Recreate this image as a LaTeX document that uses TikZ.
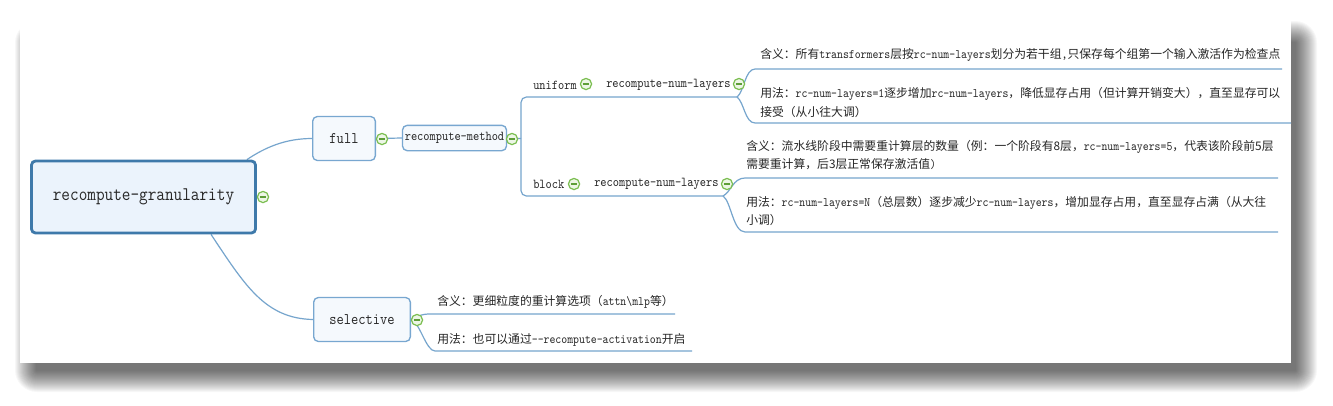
\documentclass[tikz,border=0pt]{standalone}
\usepackage{fontspec}
\setmonofont{Latin Modern Mono}[FakeStretch=0.87]
\newfontfamily\cjk[Scale=0.914]{Noto Sans CJK SC}
\newcommand\zh[1]{{\cjk #1}}
\usetikzlibrary{calc}
\definecolor{linec}{HTML}{76A5CD}
\definecolor{rootb}{HTML}{3E79AA}
\definecolor{rootf}{HTML}{EBF3FC}
\definecolor{boxb}{HTML}{78A7D0}
\definecolor{boxf}{HTML}{F5F9FD}
\definecolor{mg}{HTML}{7BBE50}
\definecolor{mf}{HTML}{EDF6E6}
\definecolor{mbar}{HTML}{5E9E38}
\definecolor{txt}{HTML}{262626}
\pgfdeclarelayer{back}
\pgfdeclarelayer{bg}
\pgfsetlayers{back,bg,main}
\begin{document}
\begin{tikzpicture}[x=0.75pt,y=-0.75pt,
  conn/.style={draw=linec, line width=0.9pt},
  rootbox/.style={draw=rootb, fill=rootf, line width=2.1pt, rounded corners=3pt, inner sep=0pt,
    minimum width=168pt, minimum height=54pt, text=txt, font=\ttfamily\fontsize{14.45pt}{17pt}\selectfont},
  topicbox/.style={draw=boxb, fill=boxf, line width=1pt, rounded corners=3.5pt, inner sep=0pt, text=txt},
  collapse/.style={circle, draw=mg, fill=mf, line width=0.9pt, minimum size=8.4pt, inner sep=0pt,
    path picture={\draw[mbar, line width=1pt] ([xshift=-2.4pt]path picture bounding box.center) -- ([xshift=2.4pt]path picture bounding box.center);}},
  mid/.style={anchor=west, inner sep=0pt, text=txt, font=\ttfamily\fontsize{10.2pt}{12pt}\selectfont},
  leaf/.style={anchor=west, inner sep=0pt, align=left, text=txt, font=\ttfamily\fontsize{9.7pt}{13.5pt}\selectfont}
]
\useasboundingbox (0,0) rectangle (1333,405);
\begin{pgfonlayer}{back}
  \fill[white] (0,0) rectangle (1333,405);
  \foreach \i in {0,...,21} {
    \pgfmathsetmacro\rr{(\i+1)*0.75}
    \fill[black, opacity=0.03, rounded corners=\rr pt] (36-\i,42-\i) rectangle (1296+\i,371+\i);
  }
  \fill[white] (20,20) rectangle (1291,363);
\end{pgfonlayer}

% main topics
\node[rootbox] (root) at (143.5,197) {recompute-granularity};
\node[topicbox, minimum width=47pt, minimum height=33pt, font=\ttfamily\fontsize{12.15pt}{14pt}\selectfont] (full) at (344,138.5) {full};
\node[topicbox, minimum width=78pt, minimum height=19pt, font=\ttfamily\fontsize{10.2pt}{12pt}\selectfont] (method) at (454.5,138) {recompute-method};
\node[topicbox, minimum width=72.5pt, minimum height=33pt, font=\ttfamily\fontsize{12.15pt}{14pt}\selectfont] (selective) at (362,319.5) {selective};

% underlined topics
\node[mid] (uniform) at (533,85) {uniform};
\node[mid] (rnl1) at (606,85) {recompute-num-layers};
\node[mid] (block) at (533,184) {block};
\node[mid] (rnl2) at (594,184) {recompute-num-layers};

% leaves
\node[leaf] (t1) at (760,55) {\zh{含义：所有}transformers\zh{层按}rc-num-layers\zh{划分为若干组},\zh{只保存每个组第一个输入激活作为检查点}};
\node[leaf] (t2) at (760,102.5) {\zh{用法：}rc-num-layers=1\zh{逐步增加}rc-num-layers\zh{，降低显存占用（但计算开销变大），直至显存可以}\\\zh{接受（从小往大调）}};
\node[leaf] (t3) at (746,155) {\zh{含义：流水线阶段中需要重计算层的数量（例：一个阶段有8层，}rc-num-layers=5\zh{，代表该阶段前5层}\\\zh{需要重计算，后3层正常保存激活值})};
\node[leaf] (t4) at (746,211) {\zh{用法：}rc-num-layers=N\zh{（总层数）逐步减少}rc-num-layers\zh{，增加显存占用，直至显存占满（从大往}\\\zh{小调）}};
\node[leaf] (t5) at (437,302) {\zh{含义：更细粒度的重计算选项（}attn\textbackslash mlp\zh{等）}};
\node[leaf] (t6) at (437,340) {\zh{用法：也可以通过}-{}-recompute-activation\zh{开启}};

% collapse icons
\node[collapse] (m0) at (263,197) {};
\node[collapse] (m1) at (382,139) {};
\node[collapse] (m2) at (512,139) {};
\node[collapse] (mu) at (586,84) {};
\node[collapse] (mur) at (739,84) {};
\node[collapse] (mb) at (574,184) {};
\node[collapse] (mbr) at (727,184) {};
\node[collapse] (ms) at (417,320) {};

% connector points
\coordinate (bx) at (521,138.5);
\coordinate (ut) at (521,97);
\coordinate (bt) at (521,196);
\coordinate (ue) at (737,97);
\coordinate (be) at (723,196);
\coordinate (l1s) at (755,69);  \coordinate (l1e) at (1282,69);
\coordinate (l2s) at (755,123); \coordinate (l2e) at (1291,123);
\coordinate (l3s) at (745,178); \coordinate (l3e) at (1278,178);
\coordinate (l4s) at (745,232); \coordinate (l4e) at (1278,232);
\coordinate (l5s) at (430,314); \coordinate (l5e) at (675,314);
\coordinate (l6s) at (435,351); \coordinate (l6e) at (692,351);

\begin{pgfonlayer}{bg}
  \draw[conn] ($(root.north east)+(-10,0)$) .. controls +(18,-12) and +(-27,0) .. (full.west);
  \draw[conn] ($(root.south)+(67.5,0)$) .. controls +(34,51) and +(-48,-1) .. (selective.west);
  \draw[conn] (full.east) -- (method.west);
  \draw[conn] (method.east) -- (bx);
  \draw[conn, rounded corners=4pt] (ue) -- (ut) -- (bt) -- (be);
  \draw[conn] (ue) .. controls +(7,-5) and +(-10,0) .. (l1s) -- (l1e);
  \draw[conn] (ue) .. controls +(7,5) and +(-10,0) .. (l2s) -- (l2e);
  \draw[conn] (be) .. controls +(8,-4) and +(-12,0) .. (l3s) -- (l3e);
  \draw[conn] (be) .. controls +(8,5) and +(-12,0) .. (l4s) -- (l4e);
  \draw[conn] (selective.east) .. controls +(8,-4) and +(-8,0) .. (l5s) -- (l5e);
  \draw[conn] (selective.east) .. controls +(9,3) and +(-9,0) .. (l6s) -- (l6e);
\end{pgfonlayer}
\end{tikzpicture}
\end{document}
